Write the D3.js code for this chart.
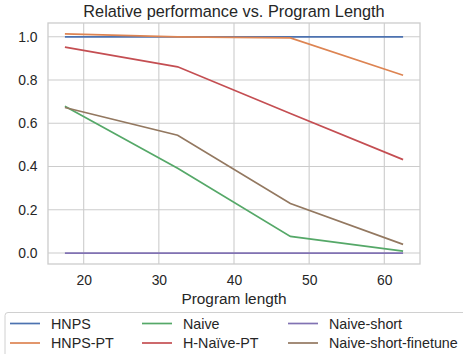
<!DOCTYPE html>
<html>
<head>
<meta charset="utf-8">
<script src="https://cdn.jsdelivr.net/npm/d3@7/dist/d3.min.js"></script>
<style>
  body { margin: 0; background: #fff; }
  svg { display: block; font-family: "Liberation Sans", Arial, sans-serif; }
</style>
</head>
<body>
<div id="chart"></div>
<script>
// program lengths (x)
const lengths = [17.5, 32.5, 47.5, 62.5];

const hnps = [1.0, 1.0, 1.0, 1.0];
const hnpsPT = [1.013, 1.0, 0.995, 0.822];
const naive = [0.679, 0.392, 0.077, 0.009];
const hNaivePT = [0.952, 0.861, 0.645, 0.432];
const naiveShort = [0.0, 0.0, 0.0, 0.0];
const naiveShortFinetune = [0.673, 0.545, 0.229, 0.04];

const seriesNames = ["HNPS", "HNPS-PT", "Naive", "H-Naïve-PT", "Naive-short", "Naive-short-finetune"];
const seriesValues = [hnps, hnpsPT, naive, hNaivePT, naiveShort, naiveShortFinetune];
const colors = ["#4c72b0", "#dd8452", "#55a868", "#c44e52", "#8172b3", "#937860"];

const xTicks = [20, 30, 40, 50, 60];
const yTicks = [0.0, 0.2, 0.4, 0.6, 0.8, 1.0];

const W = 463, H = 354;
const mLeft = 48, mRight = 420, mTop = 23, mBottom = 264;

const svg = d3.select("#chart").append("svg")
    .attr("width", W).attr("height", H);

const x = d3.scaleLinear().domain([15.25, 64.75]).range([mLeft, mRight]);
const y = d3.scaleLinear().domain([-0.0507, 1.0637]).range([mBottom, mTop]);

// grid
svg.append("g").selectAll("line").data(xTicks).enter().append("line")
    .attr("x1", d => x(d)).attr("x2", d => x(d))
    .attr("y1", mTop).attr("y2", mBottom)
    .attr("stroke", "#cccccc").attr("stroke-width", 1.1);
svg.append("g").selectAll("line").data(yTicks).enter().append("line")
    .attr("x1", mLeft).attr("x2", mRight)
    .attr("y1", d => y(d)).attr("y2", d => y(d))
    .attr("stroke", "#cccccc").attr("stroke-width", 1.1);

// axes (labels only, seaborn whitegrid has no tick marks)
const xAxis = svg.append("g")
    .attr("transform", `translate(0,${mBottom})`)
    .call(d3.axisBottom(x).tickValues(xTicks).tickSize(0).tickPadding(11).tickFormat(d3.format("d")));
const yAxis = svg.append("g")
    .attr("transform", `translate(${mLeft},0)`)
    .call(d3.axisLeft(y).tickValues(yTicks).tickSize(0).tickPadding(10.5).tickFormat(d3.format(".1f")));
[xAxis, yAxis].forEach(a => {
    a.select(".domain").remove();
    a.selectAll("text").attr("fill", "#262626").style("font-size", "13.9px")
        .style("font-family", "Liberation Sans, Arial, sans-serif");
});

// lines
const line = d3.line().x((d, i) => x(lengths[i])).y(d => y(d));
seriesValues.forEach((vals, k) => {
    svg.append("path")
        .datum(vals)
        .attr("d", line)
        .attr("fill", "none")
        .attr("stroke", colors[k])
        .attr("stroke-width", 1.7);
});

// frame
svg.append("rect")
    .attr("x", mLeft).attr("y", mTop)
    .attr("width", mRight - mLeft).attr("height", mBottom - mTop)
    .attr("fill", "none").attr("stroke", "#cccccc").attr("stroke-width", 1.3);

// title and label
svg.append("text")
    .attr("x", 234).attr("y", 16.5)
    .attr("text-anchor", "middle")
    .attr("fill", "#262626")
    .style("font-size", "16.3px")
    .text("Relative performance vs. Program Length");

svg.append("text")
    .attr("x", (mLeft + mRight) / 2).attr("y", 303.5)
    .attr("text-anchor", "middle")
    .attr("fill", "#262626")
    .style("font-size", "15.4px")
    .text("Program length");

// legend
const legend = svg.append("g");
legend.append("rect")
    .attr("x", 5).attr("y", 312.5)
    .attr("width", 470).attr("height", 60)
    .attr("rx", 3)
    .attr("fill", "#fff").attr("stroke", "#d0d0d0").attr("stroke-width", 1);

const colX = [10, 142, 288];
const rowY = [323.5, 343];
const item = legend.selectAll(".item")
    .data(seriesNames)
    .enter().append("g")
    .attr("class", "item")
    .attr("transform", (d, i) => `translate(${colX[Math.floor(i / 2)]},${rowY[i % 2]})`);
item.append("line")
    .attr("x1", 0).attr("x2", 30)
    .attr("stroke", (d, i) => colors[i]).attr("stroke-width", 1.7);
item.append("text")
    .attr("x", 41).attr("dy", "0.35em")
    .attr("fill", "#262626")
    .style("font-size", "14.3px")
    .text(d => d);
</script>
</body>
</html>
